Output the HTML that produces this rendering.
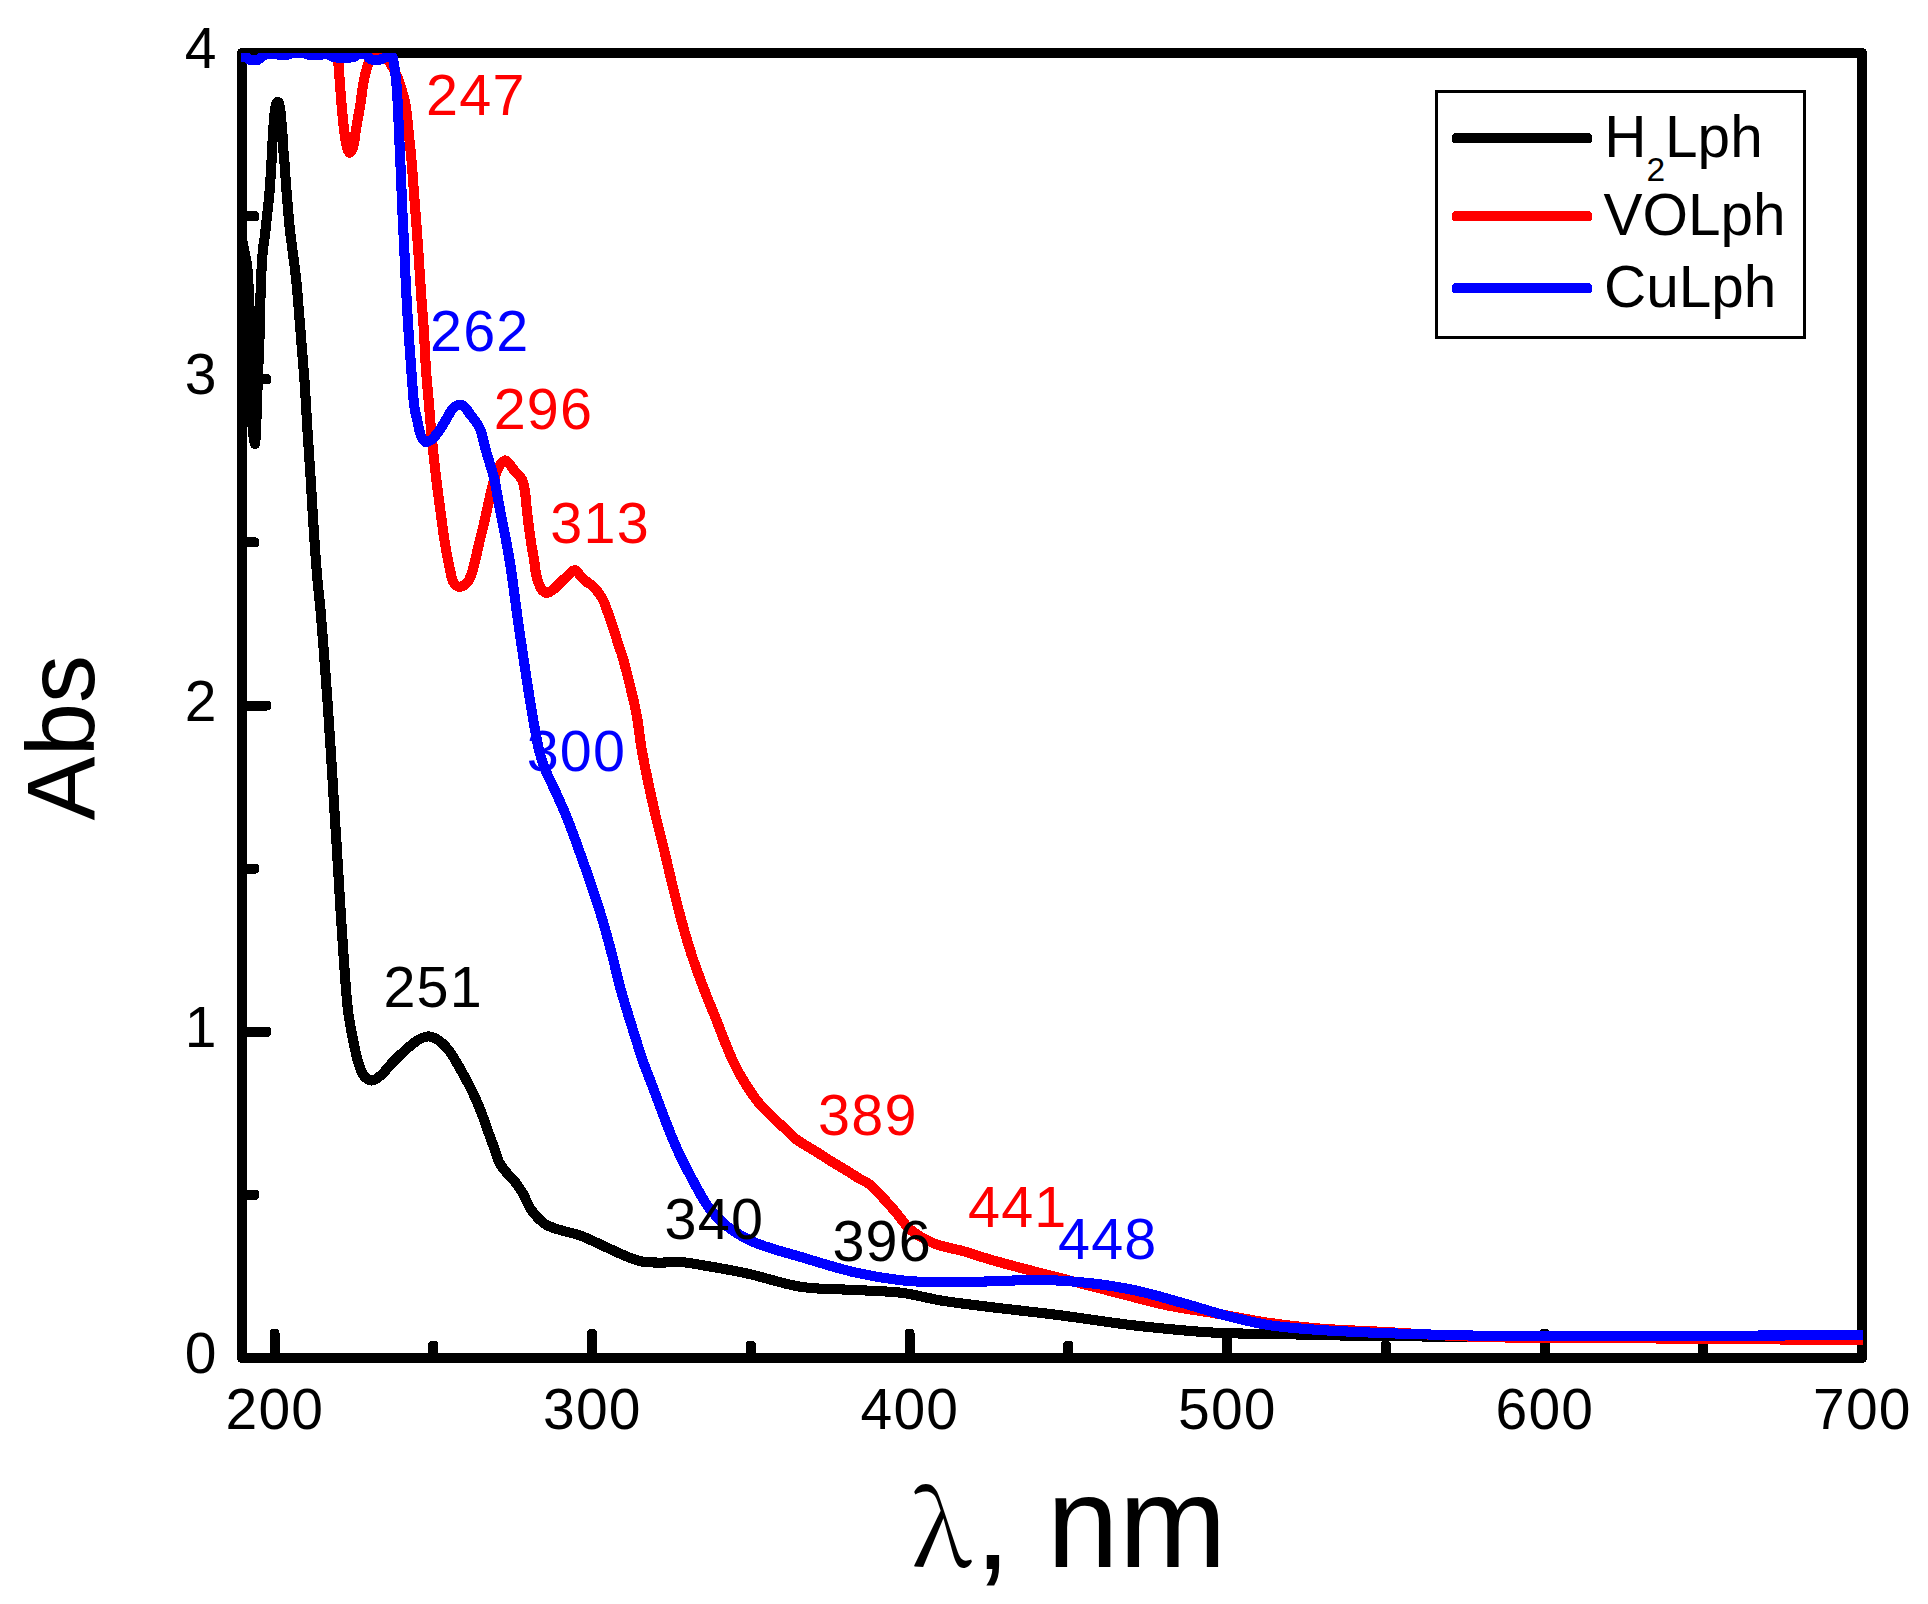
<!DOCTYPE html>
<html lang="en"><head><meta charset="utf-8"><title>UV-Vis absorption spectra</title>
<style>html,body{margin:0;padding:0;background:#fff}body{width:1928px;height:1604px;overflow:hidden}svg{display:block}text{font-family:"Liberation Sans",Arial,sans-serif}.sym{font-family:"Noto Serif CJK SC","Liberation Serif","DejaVu Serif",serif}</style></head><body>
<svg width="1928" height="1604" viewBox="0 0 1928 1604" shape-rendering="crispEdges">
<rect width="1928" height="1604" fill="#fff"/>
<defs><clipPath id="plot"><rect x="241" y="53" width="1622" height="1306"/></clipPath></defs>
<g stroke="#000" stroke-width="10" fill="none">
<rect x="242" y="53" width="1620" height="1305" stroke-linejoin="round"/>
</g>
<g fill="#000">
<rect x="269.5" y="1329.0" width="10" height="32.0" rx="3.6"/>
<rect x="428.2" y="1341.0" width="10" height="20.0" rx="3.6"/>
<rect x="587.0" y="1329.0" width="10" height="32.0" rx="3.6"/>
<rect x="745.8" y="1341.0" width="10" height="20.0" rx="3.6"/>
<rect x="904.5" y="1329.0" width="10" height="32.0" rx="3.6"/>
<rect x="1063.2" y="1341.0" width="10" height="20.0" rx="3.6"/>
<rect x="1222.0" y="1329.0" width="10" height="32.0" rx="3.6"/>
<rect x="1380.8" y="1341.0" width="10" height="20.0" rx="3.6"/>
<rect x="1539.5" y="1329.0" width="10" height="32.0" rx="3.6"/>
<rect x="1698.2" y="1341.0" width="10" height="20.0" rx="3.6"/>
<rect x="239.0" y="1189.9" width="20.0" height="10" rx="3.6"/>
<rect x="239.0" y="1026.8" width="32.0" height="10" rx="3.6"/>
<rect x="239.0" y="863.6" width="20.0" height="10" rx="3.6"/>
<rect x="239.0" y="700.5" width="32.0" height="10" rx="3.6"/>
<rect x="239.0" y="537.4" width="20.0" height="10" rx="3.6"/>
<rect x="239.0" y="374.2" width="32.0" height="10" rx="3.6"/>
<rect x="239.0" y="211.1" width="20.0" height="10" rx="3.6"/>
</g>
<g clip-path="url(#plot)" fill="none" stroke-width="10.1" stroke-linejoin="round" stroke-linecap="butt">
<path stroke="#000" d="M236.0 215.0C238.0 223.3 240.2 231.6 242.0 240.0C243.8 248.3 245.8 256.2 247.0 265.0C248.3 274.5 248.5 285.0 249.0 295.0C249.5 305.0 249.7 314.0 250.0 325.0C250.3 338.5 250.5 355.1 250.8 370.0C251.1 384.7 251.3 402.2 251.8 414.0C252.2 422.0 252.5 428.5 253.2 434.0C253.7 437.9 254.4 444.0 254.9 444.0C255.5 444.0 255.8 432.7 256.2 425.0C256.8 412.8 257.3 394.1 257.9 378.0C258.5 360.9 259.5 341.4 260.0 325.0C260.4 310.7 260.3 297.9 260.8 285.0C261.3 272.9 262.0 259.2 262.9 250.0C263.5 243.9 264.4 240.3 265.0 235.0C265.7 229.0 266.3 222.4 267.0 216.0C267.7 209.4 268.5 203.5 269.2 196.0C270.0 186.6 270.8 173.6 271.4 164.0C271.8 156.3 272.0 149.2 272.4 143.0C272.7 138.1 273.0 134.4 273.3 130.0C273.6 125.4 273.9 120.0 274.3 116.0C274.6 113.0 274.9 110.3 275.3 108.0C275.6 106.2 275.9 104.4 276.4 103.3C276.7 102.6 277.2 101.8 277.6 101.8C278.0 101.8 278.6 102.6 278.9 103.3C279.4 104.4 279.6 106.5 279.9 108.0C280.2 109.4 280.3 110.4 280.5 112.0C280.8 114.6 281.1 118.6 281.4 122.0C281.7 125.6 282.1 129.0 282.4 133.0C282.8 137.8 282.9 143.8 283.3 149.0C283.6 153.8 284.1 157.5 284.5 163.0C285.1 170.7 285.8 181.9 286.5 191.0C287.2 199.6 287.9 208.6 288.6 216.0C289.1 221.9 289.4 225.2 290.2 232.0C291.5 243.7 294.5 263.8 296.2 279.9C297.9 296.3 299.0 313.2 300.4 329.8C301.8 346.4 303.2 363.0 304.4 379.6C305.6 396.2 306.4 412.9 307.4 429.5C308.5 446.1 309.6 462.8 310.7 479.4C311.7 496.0 312.6 512.7 313.7 529.3C314.8 545.9 316.1 564.5 317.4 579.1C318.4 590.6 319.5 599.0 320.5 610.0C321.6 622.4 322.6 635.9 323.7 649.9C324.9 665.6 326.2 683.2 327.4 699.8C328.6 716.4 329.7 733.0 330.7 749.6C331.8 766.2 332.7 782.9 333.7 799.5C334.7 816.1 335.9 832.8 336.9 849.4C337.9 866.0 338.9 882.7 339.9 899.3C340.9 915.9 341.9 932.4 343.1 949.1C344.3 966.0 345.8 988.1 346.9 1000.0C347.5 1006.5 347.8 1009.4 348.6 1015.0C349.7 1022.3 351.4 1031.8 353.1 1040.0C354.8 1048.0 356.4 1057.1 358.6 1063.6C360.2 1068.5 361.5 1073.1 364.0 1076.0C366.0 1078.3 368.9 1080.4 371.5 1080.5C374.3 1080.6 377.4 1078.0 380.5 1075.6C384.7 1072.3 388.9 1066.0 393.6 1061.3C398.5 1056.4 404.5 1050.7 409.2 1046.8C412.8 1043.8 415.6 1041.3 419.0 1039.5C422.1 1037.9 425.5 1036.3 428.7 1036.4C431.8 1036.5 435.0 1038.1 438.0 1040.0C441.5 1042.2 445.1 1045.8 448.2 1049.6C451.8 1053.9 454.7 1059.3 458.0 1065.0C461.9 1071.6 466.7 1080.6 470.0 1087.0C472.5 1091.9 474.1 1095.3 476.2 1100.0C478.6 1105.5 481.4 1112.6 483.5 1118.2C485.2 1122.9 486.3 1126.5 488.0 1131.2C490.0 1136.9 492.9 1144.4 494.9 1150.0C496.5 1154.5 497.3 1158.6 499.2 1162.3C501.0 1165.9 503.6 1169.1 506.0 1172.0C508.3 1174.8 511.1 1177.0 513.2 1179.5C515.0 1181.7 516.4 1183.7 518.0 1186.0C519.7 1188.4 521.2 1190.5 522.9 1193.5C525.3 1197.7 527.9 1204.8 530.7 1209.1C533.0 1212.6 535.4 1215.4 538.0 1218.0C540.5 1220.5 542.8 1222.8 546.0 1224.7C549.9 1227.0 554.9 1228.3 560.0 1230.0C566.1 1232.0 572.9 1232.9 580.3 1235.6C589.7 1239.0 602.6 1245.7 611.4 1249.6C617.8 1252.5 622.6 1254.9 628.0 1257.0C633.0 1258.9 637.5 1260.7 642.6 1261.6C648.1 1262.6 653.9 1262.5 660.0 1262.6C666.8 1262.7 674.6 1261.7 681.5 1262.1C687.9 1262.5 692.4 1263.6 700.0 1264.8C712.1 1266.8 730.7 1269.9 746.8 1273.4C764.3 1277.2 783.0 1284.1 801.3 1286.9C819.3 1289.6 838.3 1289.0 855.8 1290.0C872.0 1291.0 887.8 1291.0 902.6 1292.9C916.2 1294.7 927.8 1298.3 941.5 1300.6C956.7 1303.1 972.5 1304.8 990.0 1307.0C1010.7 1309.6 1034.5 1312.0 1057.9 1315.0C1083.0 1318.2 1109.8 1322.7 1135.8 1325.6C1161.8 1328.5 1188.8 1331.2 1213.8 1332.6C1236.7 1333.9 1257.2 1333.6 1280.0 1334.1C1304.2 1334.6 1325.9 1335.3 1355.0 1335.8C1395.4 1336.5 1447.8 1337.0 1500.0 1337.2C1561.3 1337.5 1636.0 1337.0 1700.0 1337.0C1759.0 1337.0 1813.3 1337.0 1870.0 1337.0"/>
<path stroke="#f00" d="M236.0 38.0C257.3 38.0 283.0 38.0 300.0 38.0C311.2 38.0 322.1 36.3 328.0 38.0C331.1 38.9 332.9 39.9 334.5 42.0C336.5 44.7 336.9 49.9 337.6 54.0C338.3 58.3 338.3 61.8 338.7 67.4C339.4 76.7 340.6 93.6 341.6 104.8C342.4 114.0 343.1 122.1 344.1 129.8C345.0 136.5 345.8 144.4 347.2 148.4C347.9 150.5 348.8 152.8 349.7 152.8C350.6 152.8 351.9 150.5 352.8 148.4C354.4 144.5 354.8 136.5 355.9 129.8C357.2 122.1 358.9 113.1 360.3 104.8C361.6 96.5 362.3 87.6 364.0 79.9C365.5 73.2 366.9 65.8 369.6 61.2C371.6 57.8 374.3 54.1 377.0 53.5C379.4 52.9 382.7 54.8 385.0 56.5C387.5 58.3 389.2 61.7 391.0 64.5C392.7 67.2 394.2 70.3 395.5 73.0C396.7 75.4 397.5 77.3 398.5 80.0C399.8 83.4 401.1 87.9 402.3 92.0C403.5 96.2 404.7 99.9 405.6 105.0C406.9 111.9 407.5 121.7 408.4 130.0C409.3 138.3 410.1 145.2 411.0 154.7C412.2 167.5 413.5 186.5 414.5 200.0C415.3 211.0 416.1 221.1 416.8 230.0C417.3 237.2 417.6 241.5 418.2 249.5C419.1 262.4 420.5 285.3 421.5 299.8C422.3 310.9 423.1 318.7 423.8 329.3C424.6 341.8 425.1 357.5 426.0 370.0C426.8 380.8 427.7 389.3 428.6 400.0C429.7 412.4 430.7 426.7 432.0 440.0C433.3 453.3 434.9 467.5 436.4 480.0C437.7 491.1 439.1 500.8 440.5 511.2C441.9 521.6 443.2 532.8 444.8 542.4C446.1 550.7 448.0 560.0 449.1 565.7C449.8 569.0 450.2 570.9 450.8 573.5C451.4 576.1 451.7 579.1 452.8 581.3C453.7 583.1 454.9 584.9 456.3 585.8C457.5 586.6 459.1 586.9 460.4 586.8C461.8 586.7 463.2 585.8 464.4 585.0C465.8 584.1 467.1 582.9 468.2 581.3C469.6 579.3 470.8 576.1 471.7 573.5C472.6 570.9 473.1 568.3 473.8 565.7C474.5 563.1 475.1 560.9 475.8 557.9C476.8 553.6 478.1 547.6 479.3 542.4C480.5 537.2 482.0 532.0 483.2 526.8C484.4 521.6 485.5 516.4 486.7 511.2C487.9 506.0 489.0 500.8 490.2 495.6C491.4 490.4 492.6 485.0 494.1 480.0C495.6 475.2 497.0 469.7 499.2 466.3C500.9 463.7 503.3 460.4 505.2 460.4C506.9 460.4 508.4 463.1 510.0 464.8C511.9 466.9 513.6 469.9 515.6 472.3C517.6 474.8 520.5 476.6 522.0 479.6C523.8 483.0 524.2 487.4 525.0 492.0C526.0 497.7 526.2 504.1 527.0 511.2C528.0 520.1 529.6 532.6 530.9 541.4C531.9 548.4 533.2 554.4 534.1 560.0C534.8 564.6 535.0 568.6 535.8 572.6C536.5 576.3 537.3 579.9 538.5 583.0C539.5 585.6 540.5 588.3 542.0 590.0C543.3 591.4 545.0 592.7 546.6 592.8C548.3 592.9 550.3 591.6 552.0 590.5C553.8 589.4 555.1 587.8 557.0 586.0C559.6 583.6 563.0 580.0 566.0 577.3C568.8 574.8 572.0 570.1 574.6 570.2C576.9 570.3 578.8 574.3 581.0 576.4C583.2 578.5 585.6 580.9 587.7 582.6C589.4 583.9 590.9 584.4 592.5 585.8C594.6 587.6 596.9 590.5 598.7 593.0C600.4 595.4 602.0 597.7 603.3 600.3C604.6 602.9 605.4 605.7 606.4 608.5C607.4 611.3 608.5 614.1 609.5 617.0C610.5 620.0 611.4 622.4 612.6 626.0C614.3 631.1 616.7 639.3 618.5 644.7C619.9 648.9 620.9 651.3 622.3 656.0C624.5 663.3 627.4 674.9 629.8 684.7C632.3 694.8 634.9 705.4 636.8 715.8C638.7 726.2 639.5 736.5 641.3 747.0C643.1 757.9 645.4 768.9 647.7 780.0C650.1 791.5 652.7 803.3 655.4 814.9C658.1 826.6 661.3 838.2 664.1 849.8C666.9 861.4 669.5 873.1 672.3 884.7C675.2 896.3 678.0 908.0 681.2 919.6C684.4 931.3 687.7 942.9 691.5 954.5C695.3 966.2 699.8 978.2 704.1 989.4C708.1 1000.0 712.7 1010.7 716.4 1020.0C719.4 1027.7 721.7 1034.2 724.6 1041.2C727.5 1048.3 730.2 1055.4 733.6 1062.4C737.1 1069.6 740.9 1076.7 745.3 1083.6C749.8 1090.8 755.2 1098.7 760.4 1104.8C764.9 1110.1 769.9 1114.4 774.2 1118.6C777.9 1122.2 781.3 1125.3 784.8 1128.6C788.3 1132.0 791.7 1135.8 795.4 1138.7C798.8 1141.4 802.4 1143.4 806.0 1145.6C809.5 1147.8 813.1 1149.8 816.6 1152.0C820.1 1154.2 823.7 1156.6 827.2 1158.8C830.7 1161.0 834.3 1163.1 837.8 1165.2C841.3 1167.3 844.9 1169.4 848.4 1171.6C851.9 1173.8 855.4 1176.2 859.0 1178.4C862.5 1180.5 865.6 1181.3 869.6 1184.5C876.5 1190.0 887.5 1202.8 894.8 1211.0C900.7 1217.7 904.1 1224.4 910.4 1229.7C917.0 1235.3 925.2 1239.7 933.8 1243.3C943.2 1247.2 955.1 1248.8 964.9 1251.6C973.7 1254.2 980.8 1256.8 990.0 1259.5C1001.1 1262.7 1013.8 1266.1 1026.8 1269.5C1041.4 1273.4 1057.9 1277.5 1073.5 1281.5C1089.1 1285.5 1104.7 1289.6 1120.3 1293.6C1135.9 1297.6 1151.4 1302.0 1167.0 1305.3C1182.5 1308.5 1197.5 1310.3 1213.8 1313.1C1231.7 1316.2 1251.8 1320.4 1270.0 1323.0C1287.1 1325.5 1302.3 1327.2 1320.0 1328.6C1339.9 1330.2 1363.3 1330.8 1383.5 1331.9C1401.9 1332.9 1418.8 1334.1 1436.4 1335.0C1454.0 1335.9 1468.4 1336.7 1489.3 1337.2C1519.5 1337.9 1555.0 1337.7 1600.0 1338.0C1670.3 1338.5 1780.0 1339.5 1870.0 1340.2"/>
<path stroke="#00f" d="M236.0 56.5C239.3 56.7 243.5 56.2 246.0 57.0C247.7 57.6 248.3 59.2 250.0 59.7C252.1 60.4 255.7 60.4 258.0 59.7C260.0 59.0 261.3 56.9 263.0 56.0C264.6 55.1 265.8 54.5 268.0 54.1C272.1 53.4 281.6 55.4 286.0 54.9C288.6 54.6 289.6 53.5 292.0 53.2C295.3 52.7 300.7 52.7 304.0 53.2C306.4 53.5 307.7 54.6 310.0 54.9C313.1 55.3 318.0 55.4 321.0 54.9C323.2 54.6 324.6 53.0 326.5 53.2C328.6 53.4 330.1 56.1 333.0 56.9C337.9 58.2 350.2 58.0 354.0 56.9C355.6 56.4 355.7 55.3 357.0 54.9C359.1 54.3 363.6 54.0 366.0 54.9C367.9 55.7 368.4 58.3 370.5 59.1C373.3 60.2 379.0 59.9 382.0 59.1C384.1 58.5 385.3 56.6 387.0 56.0C388.5 55.5 390.5 54.8 391.6 55.5C392.9 56.4 393.1 59.7 393.6 62.0C394.2 64.5 394.5 66.7 394.9 70.0C395.6 75.1 396.3 82.1 396.9 89.9C397.7 100.9 398.3 116.5 398.9 129.8C399.5 143.1 400.1 156.4 400.7 169.7C401.3 183.0 401.7 196.3 402.3 209.6C402.9 222.9 403.7 236.2 404.3 249.5C404.9 262.8 405.4 276.1 406.1 289.4C406.8 302.7 407.5 315.9 408.4 329.3C409.3 342.8 410.3 356.7 411.3 370.0C412.3 382.7 413.1 398.3 414.5 407.4C415.3 412.7 416.3 415.9 417.2 420.0C418.0 423.8 418.6 427.8 419.5 431.0C420.2 433.6 420.8 436.1 422.0 438.0C423.0 439.6 424.2 441.7 425.7 442.0C427.2 442.4 429.2 441.2 431.0 440.0C433.4 438.4 435.8 435.4 438.2 432.3C441.1 428.4 444.1 422.6 446.8 418.3C449.1 414.6 450.9 410.3 453.5 408.0C455.6 406.1 458.5 404.4 460.6 404.6C462.4 404.7 464.0 406.6 465.5 408.0C467.1 409.5 468.0 411.4 469.6 413.6C472.0 416.9 476.6 422.1 478.7 426.1C480.4 429.2 481.0 431.7 482.0 435.0C483.2 438.9 483.8 442.7 485.2 447.9C487.4 456.1 492.2 470.3 494.3 479.1C495.8 485.4 496.4 490.2 497.4 495.6C498.4 500.9 499.3 506.0 500.3 511.2C501.3 516.4 502.4 521.7 503.4 526.8C504.4 531.7 505.2 535.9 506.2 541.4C507.5 548.5 509.0 556.1 510.5 566.0C512.8 580.9 515.5 603.1 518.2 622.3C521.1 642.6 524.5 665.4 527.5 684.7C530.1 701.4 533.0 719.0 535.3 731.4C536.8 739.7 537.8 745.4 539.5 752.0C541.2 758.4 543.5 765.3 545.5 770.4C547.0 774.2 548.1 775.8 550.1 780.0C553.8 788.0 561.0 803.2 565.8 814.9C570.6 826.5 574.7 838.1 578.9 849.8C583.1 861.4 587.2 873.0 591.1 884.7C595.0 896.3 598.9 907.9 602.4 919.6C605.9 931.2 608.9 942.8 612.0 954.5C615.0 966.1 617.5 977.8 620.7 989.4C623.9 1001.1 627.6 1012.6 631.2 1024.3C634.9 1036.1 638.9 1049.4 642.5 1059.9C645.4 1068.3 647.4 1073.0 651.0 1082.3C657.0 1097.9 667.6 1127.6 675.1 1144.7C680.5 1157.0 684.9 1165.5 690.4 1175.8C696.0 1186.3 702.6 1199.1 708.3 1207.0C712.3 1212.5 715.9 1216.0 720.0 1220.0C724.0 1223.8 727.5 1227.0 732.5 1230.4C738.9 1234.7 746.5 1239.1 755.8 1243.0C768.5 1248.3 786.5 1252.7 802.6 1257.5C819.7 1262.6 838.5 1268.7 855.8 1272.6C871.8 1276.2 887.7 1278.8 902.6 1280.4C916.1 1281.9 927.8 1282.2 941.5 1282.4C956.8 1282.6 973.5 1281.8 990.0 1281.4C1007.1 1281.0 1025.4 1279.6 1042.3 1279.9C1058.3 1280.2 1073.5 1281.2 1089.1 1283.0C1104.7 1284.8 1120.3 1287.2 1135.8 1290.5C1151.5 1293.8 1167.0 1298.7 1182.6 1303.0C1198.2 1307.3 1214.2 1312.7 1229.3 1316.5C1243.3 1320.0 1255.7 1323.1 1270.0 1325.3C1285.7 1327.7 1302.3 1328.7 1320.0 1330.0C1339.9 1331.4 1363.3 1332.3 1383.5 1333.1C1401.9 1333.8 1418.8 1334.2 1436.4 1334.7C1454.0 1335.1 1468.4 1335.6 1489.3 1335.8C1519.5 1336.2 1555.0 1336.1 1600.0 1336.1C1670.3 1336.1 1780.0 1335.4 1870.0 1335.1"/>
</g>
<g font-size="57" fill="#000" letter-spacing="1.2">
<text x="225.5" y="1429.3">200</text>
<text x="543.0" y="1429.3">300</text>
<text x="860.5" y="1429.3">400</text>
<text x="1178.0" y="1429.3">500</text>
<text x="1495.5" y="1429.3">600</text>
<text x="1813.0" y="1429.3">700</text>
</g>
<g font-size="57" fill="#000" text-anchor="end">
<text x="216.5" y="1373.1">0</text>
<text x="216.5" y="1046.8">1</text>
<text x="216.5" y="720.6">2</text>
<text x="216.5" y="394.4">3</text>
<text x="216.5" y="68.1">4</text>
</g>
<text transform="translate(93.8 737.7) rotate(-90)" font-size="96" text-anchor="middle" fill="#000">Abs</text>
<text class="sym" x="911.8" y="1566.2" font-size="102.5" fill="#000">λ</text>
<text x="974.8" y="1567.2" font-size="129.5" fill="#000"><tspan dy="2.2">,</tspan><tspan dy="-2.2"> nm</tspan></text>
<g font-size="57.5" letter-spacing="1.2">
<text x="426.1" y="115.2" fill="#f00">247</text>
<text x="430.0" y="351.0" fill="#00f">262</text>
<text x="493.7" y="428.8" fill="#f00">296</text>
<text x="550.3" y="542.5" fill="#f00">313</text>
<text x="526.7" y="770.7" fill="#00f">300</text>
<text x="383.4" y="1007.0" fill="#000">251</text>
<text x="664.6" y="1238.6" fill="#000">340</text>
<text x="818.1" y="1134.6" fill="#f00">389</text>
<text x="832.4" y="1260.5" fill="#000">396</text>
<text x="968.0" y="1226.6" fill="#f00">441</text>
<text x="1058.0" y="1258.8" fill="#00f">448</text>
</g>
<rect x="1436.5" y="91.5" width="368" height="246" fill="#fff" stroke="#000" stroke-width="3"/>
<rect x="1452" y="133" width="140" height="10" rx="3.5" fill="#000"/>
<rect x="1452" y="211" width="140" height="10" rx="3.5" fill="#f00"/>
<rect x="1452" y="283" width="140" height="10" rx="3.5" fill="#00f"/>
<g font-size="58.5" fill="#000">
<text x="1604.2" y="157.4">H<tspan font-size="33.5" dy="23.1">2</tspan><tspan dy="-23.1">Lph</tspan></text>
<text x="1603.5" y="235.4">VOLph</text>
<text x="1604" y="307">CuLph</text>
</g>
</svg></body></html>
